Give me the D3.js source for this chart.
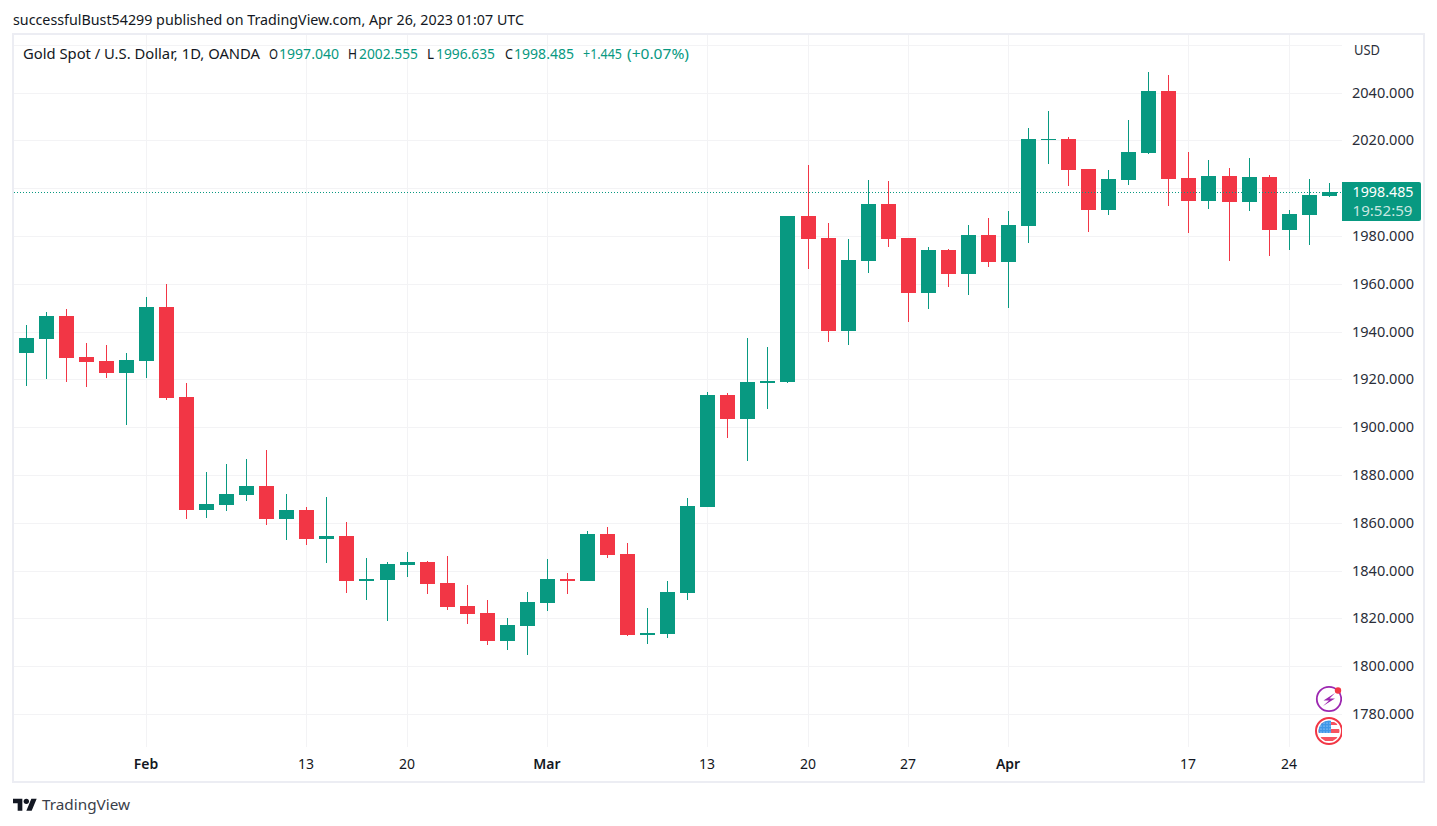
<!DOCTYPE html>
<html><head><meta charset="utf-8">
<script src="https://cdn.jsdelivr.net/npm/d3@7/dist/d3.min.js"></script>
<style>html,body{margin:0;padding:0;background:#fff;overflow:hidden}svg{display:block}
text{font-family:"Noto Sans",sans-serif;fill:#131722}</style></head><body>
<script>
const opens=[1931.25,1937.11,1946.73,1929.58,1927.90,1922.88,1927.90,1950.50,1912.84,1865.56,
1867.65,1871.84,1875.60,1861.80,1865.56,1853.43,1854.68,1835.85,1836.27,1842.55,
1843.81,1835.02,1825.39,1822.46,1810.75,1817.03,1826.65,1836.69,1835.85,1855.52,
1847.15,1813.26,1813.68,1830.83,1866.82,1913.68,1903.64,1918.70,1919.12,1988.57,
1979.37,1940.46,1969.74,1993.59,1979.37,1956.36,1974.35,1964.31,1980.62,1969.33,
1984.39,2020.37,2020.79,2008.24,1991.08,2003.64,2014.93,2040.87,2004.47,1994.85,
2005.31,1994.43,2004.89,1982.72,1988.99,1997.04];
const highs=[1942.97,1948.41,1949.66,1935.44,1934.60,1931.25,1954.68,1960.12,1918.70,1881.46,
1884.81,1886.90,1890.67,1872.25,1866.82,1871.00,1860.54,1845.48,1843.81,1847.99,
1844.22,1846.31,1834.18,1827.91,1820.37,1831.25,1845.06,1839.20,1856.77,1858.45,
1851.75,1824.56,1835.85,1870.58,1914.93,1914.51,1937.53,1933.76,1988.57,2009.91,
1985.64,1978.95,2003.64,2003.22,1979.37,1975.60,1974.77,1984.81,1987.74,1990.67,
2025.39,2032.51,2021.63,2008.24,2007.82,2028.74,2048.82,2047.57,2015.35,2012.00,
2008.66,2012.84,2005.73,1991.08,2004.05,2002.555];
const lows=[1917.44,1920.38,1919.12,1917.03,1920.79,1901.13,1920.79,1911.59,1861.80,1862.21,
1865.14,1869.33,1859.28,1853.01,1850.92,1843.38,1830.83,1827.91,1819.12,1837.53,
1830.41,1823.72,1817.86,1809.08,1806.98,1804.89,1823.30,1830.41,1835.85,1845.48,
1812.84,1809.50,1812.00,1827.91,1866.82,1895.69,1886.07,1907.82,1918.70,1966.40,
1935.85,1934.60,1964.72,1975.60,1944.22,1949.66,1958.87,1955.52,1967.23,1950.08,
1977.28,2010.33,2001.13,1981.88,1988.99,2001.54,2014.51,1992.76,1981.46,1991.50,
1969.74,1990.67,1971.84,1974.35,1976.44,1996.635];
const closes=[1937.53,1946.73,1929.16,1927.49,1922.88,1928.32,1950.50,1912.42,1865.56,1868.07,
1872.25,1875.60,1861.80,1865.56,1853.43,1854.68,1835.85,1836.69,1842.97,1843.81,
1834.60,1824.97,1822.05,1810.75,1817.44,1827.07,1836.69,1835.85,1855.52,1846.73,
1813.26,1814.10,1831.25,1867.23,1913.68,1903.64,1919.12,1919.54,1988.57,1978.95,
1940.46,1970.16,1993.59,1978.95,1956.36,1974.35,1964.31,1980.62,1969.33,1984.81,
2020.79,2020.79,2007.82,1991.08,2004.05,2015.35,2040.87,2004.05,1994.85,2005.31,
1994.43,2004.89,1982.72,1989.41,1997.36,1998.485];
const priceTicks=[2040,2020,2000,1980,1960,1940,1920,1900,1880,1860,1840,1820,1800,1780];
const gridOnlyTicks=[2060];
const timeTickIndex=[6,14,19,26,34,39,44,49,58,63];
const timeTickLabels=["Feb","13","20","Mar","13","20","27","Apr","17","24"];
const monthLabels=["Feb","Mar","Apr"];
const lastPrice=1998.485;
const countdown="19:52:59";
const publishLine="successfulBust54299 published on TradingView.com, Apr 26, 2023 01:07 UTC";
const legendParts=[
 ["Gold Spot / U.S. Dollar, 1D, OANDA",23,237,0],["O",269,9,0],["1997.040",279,60,1],
 ["H",348,9,0],["2002.555",359,59,1],["L",427,7,0],["1996.635",436,59,1],
 ["C",505,8,0],["1998.485",514,60,1],["+1.445",583,39,1],["(+0.07%)",627,62,1]];

const UP="#089981",DOWN="#F23645",GRID="#f3f3f5",FRAME="#ecedf3";
const W=1437,H=826;
const svg=d3.select("body").append("svg").attr("width",W).attr("height",H).attr("viewBox",`0 0 ${W} ${H}`);
const x=d3.scaleLinear().domain([0,65]).rangeRound([25.65,1328.77]);
const y=d3.scaleLinear().domain([1780,2040]).rangeRound([714.5,93.1]);
const yFine=d3.scaleLinear().domain([1780,2040]).range([714.5,93.1]);
const yGrid=p=>Math.floor(yFine(p));

svg.append("text").attr("x",13).attr("y",25).attr("font-size",14).attr("textLength",511)
  .attr("lengthAdjust","spacingAndGlyphs").text(publishLine);
svg.append("rect").attr("x",13).attr("y",34).attr("width",1411).attr("height",748)
  .attr("fill","#fff").attr("stroke",FRAME).attr("stroke-width",2);

const crisp=v=>v+0.5;
svg.append("g").selectAll("line").data(priceTicks.concat(gridOnlyTicks)).join("line")
  .attr("x1",14).attr("x2",1342).attr("y1",d=>crisp(yGrid(d))).attr("y2",d=>crisp(yGrid(d)))
  .attr("stroke",GRID);
svg.append("g").selectAll("line").data(timeTickIndex).join("line")
  .attr("x1",d=>crisp(x(d))).attr("x2",d=>crisp(x(d))).attr("y1",35).attr("y2",747)
  .attr("stroke",GRID);

const idx=d3.range(opens.length);
const col=i=>closes[i]>=opens[i]?UP:DOWN;
const candles=svg.append("g").attr("shape-rendering","crispEdges");
candles.selectAll("line").data(idx).join("line")
  .attr("x1",i=>crisp(x(i))).attr("x2",i=>crisp(x(i)))
  .attr("y1",i=>y(highs[i])).attr("y2",i=>y(lows[i]))
  .attr("stroke",col).attr("stroke-width",1);
candles.selectAll("rect").data(idx).join("rect")
  .attr("x",i=>x(i)-7).attr("width",15)
  .attr("y",i=>y(Math.max(opens[i],closes[i])))
  .attr("height",i=>Math.max(1,y(Math.min(opens[i],closes[i]))-y(Math.max(opens[i],closes[i]))))
  .attr("fill",col);

svg.append("line").attr("x1",14).attr("x2",1342).attr("y1",crisp(y(lastPrice))).attr("y2",crisp(y(lastPrice)))
  .attr("stroke",UP).attr("stroke-dasharray","1,2").attr("shape-rendering","crispEdges");

svg.append("g").selectAll("text").data(legendParts).join("text")
  .attr("x",d=>d[1]).attr("y",59).attr("font-size",14).attr("textLength",d=>d[2])
  .attr("lengthAdjust","spacingAndGlyphs").style("fill",d=>d[3]?UP:"#131722").text(d=>d[0]);

svg.append("text").attr("x",1354).attr("y",55).attr("font-size",14).attr("textLength",26)
  .attr("lengthAdjust","spacingAndGlyphs").style("fill","#2a2e39").text("USD");
svg.append("g").selectAll("text").data(priceTicks.filter(d=>d!==2000)).join("text")
  .attr("x",1352).attr("y",d=>yGrid(d)+5).attr("font-size",14).attr("textLength",62)
  .attr("lengthAdjust","spacingAndGlyphs").style("fill","#2a2e39").text(d=>d3.format(".3f")(d));

svg.append("path").attr("d","M1342 182H1419a2 2 0 0 1 2 2V219a2 2 0 0 1 -2 2H1342Z").attr("fill",UP);
svg.append("text").attr("x",1352.5).attr("y",197).attr("font-size",14).attr("textLength",61)
  .attr("lengthAdjust","spacingAndGlyphs").style("fill","#fff").text(d3.format(".3f")(lastPrice));
svg.append("text").attr("x",1352.5).attr("y",216).attr("font-size",14).attr("textLength",60)
  .attr("lengthAdjust","spacingAndGlyphs").style("fill","rgba(255,255,255,.78)").text(countdown);

svg.append("g").selectAll("text").data(timeTickIndex).join("text")
  .attr("x",d=>x(d)).attr("y",769).attr("text-anchor","middle").attr("font-size",14)
  .attr("font-weight",(d,i)=>monthLabels.includes(timeTickLabels[i])?600:400)
  .text((d,i)=>timeTickLabels[i]);

const defs=svg.append("defs");
defs.append("clipPath").attr("id","plot").append("rect").attr("x",1300).attr("y",680).attr("width",42).attr("height",70);
defs.append("clipPath").attr("id","flag").append("circle").attr("cx",1329).attr("cy",731).attr("r",10.5);
const icons=svg.append("g").attr("clip-path","url(#plot)");
icons.append("circle").attr("cx",1329).attr("cy",699).attr("r",12.2).attr("fill","#fff").attr("stroke","#9C27B0").attr("stroke-width",1.8);
icons.append("path").attr("d","M1335 693L1323.5 700.5H1329L1323 706L1335 698.5H1329.5Z").attr("fill","#9C27B0");
icons.append("circle").attr("cx",1338).attr("cy",690.5).attr("r",3.2).attr("fill",DOWN);
icons.append("circle").attr("cx",1329).attr("cy",731).attr("r",13).attr("fill","#fff").attr("stroke",DOWN).attr("stroke-width",2);
const flag=icons.append("g").attr("clip-path","url(#flag)");
flag.append("rect").attr("x",1318).attr("y",720).attr("width",22).attr("height",22).attr("fill","#fff");
flag.append("rect").attr("x",1318).attr("y",722).attr("width",22).attr("height",3).attr("fill","#F7525F");
flag.append("rect").attr("x",1318).attr("y",729).attr("width",22).attr("height",4).attr("fill","#F7525F");
flag.append("rect").attr("x",1318).attr("y",737).attr("width",22).attr("height",4).attr("fill","#F7525F");
flag.append("rect").attr("x",1318).attr("y",720).attr("width",13).attr("height",13).attr("fill","#3F97E8");
flag.append("g").selectAll("circle").data(d3.cross([1321,1324,1327,1330],[723,726,729,732])).join("circle")
  .attr("cx",d=>d[0]).attr("cy",d=>d[1]).attr("r",.6).attr("fill","#d6e9fb");

const logo=svg.append("g").attr("transform","translate(13,796) scale(0.667)").attr("fill","#131722");
logo.append("path").attr("d","M14 22H7V11H0V4h14v18ZM28 22h-8l7.5-18h8L28 22Z");
logo.append("circle").attr("cx",20).attr("cy",8).attr("r",4);
svg.append("text").attr("x",42).attr("y",810).attr("font-size",15).attr("textLength",88)
  .attr("lengthAdjust","spacingAndGlyphs").style("fill","#3a3e49").text("TradingView");
</script></body></html>
